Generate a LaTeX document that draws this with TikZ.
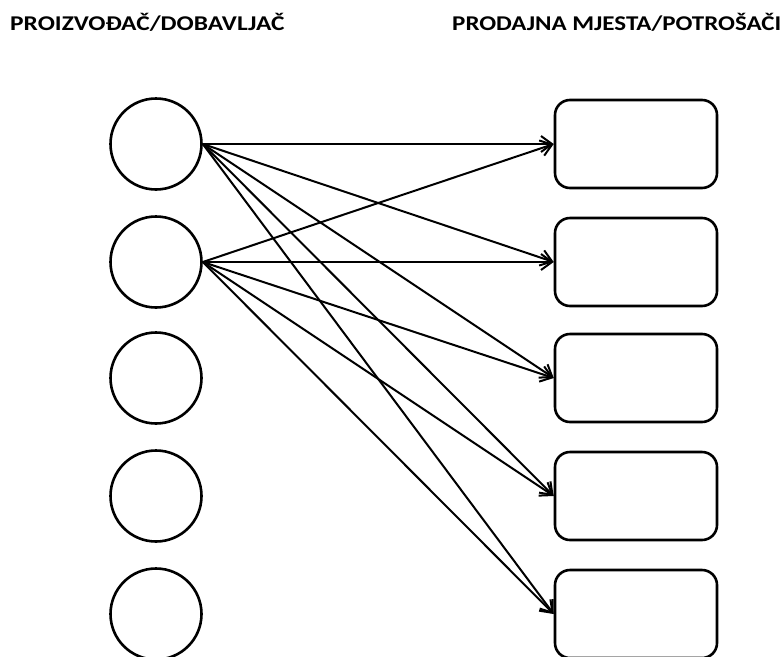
\documentclass[tikz,border=0pt]{standalone}
\usepackage{fontspec}
\setmainfont{Carlito}
\usetikzlibrary{arrows.meta}
\begin{document}
\begin{tikzpicture}[x=1pt,y=-1pt,
  src/.style={draw=black,line width=2.6pt,circle,minimum size=91pt,inner sep=0pt},
  dst/.style={draw=black,line width=2.6pt,rounded corners=15pt,minimum width=162pt,minimum height=88pt,inner sep=0pt},
  link/.style={line width=2pt,-{Straight Barb[length=11pt,width=16pt,line width=2pt]}},
  head/.style={font=\bfseries\fontsize{21}{24}\selectfont,anchor=west,inner sep=0pt}]
\useasboundingbox (0,0) rectangle (783,656);
\node[head] (h1) at (10,22) {\scalebox{1.21}[1]{PROIZVOĐAČ/DOBAVLJAČ}};
\node[head] (h2) at (452,22) {\scalebox{1.19}[1]{PRODAJNA MJESTA/POTROŠAČI}};
\foreach \i/\y in {1/144,2/262,3/378,4/496,5/614}{
  \node[src] (c\i) at (156,\y) {};
  \node[dst] (r\i) at (636,\y) {};
}
\foreach \s in {1,2}{
  \foreach \t in {1,...,5}{
    \draw[link] (c\s.east) -- (r\t.west);
  }
}
\end{tikzpicture}
\end{document}
